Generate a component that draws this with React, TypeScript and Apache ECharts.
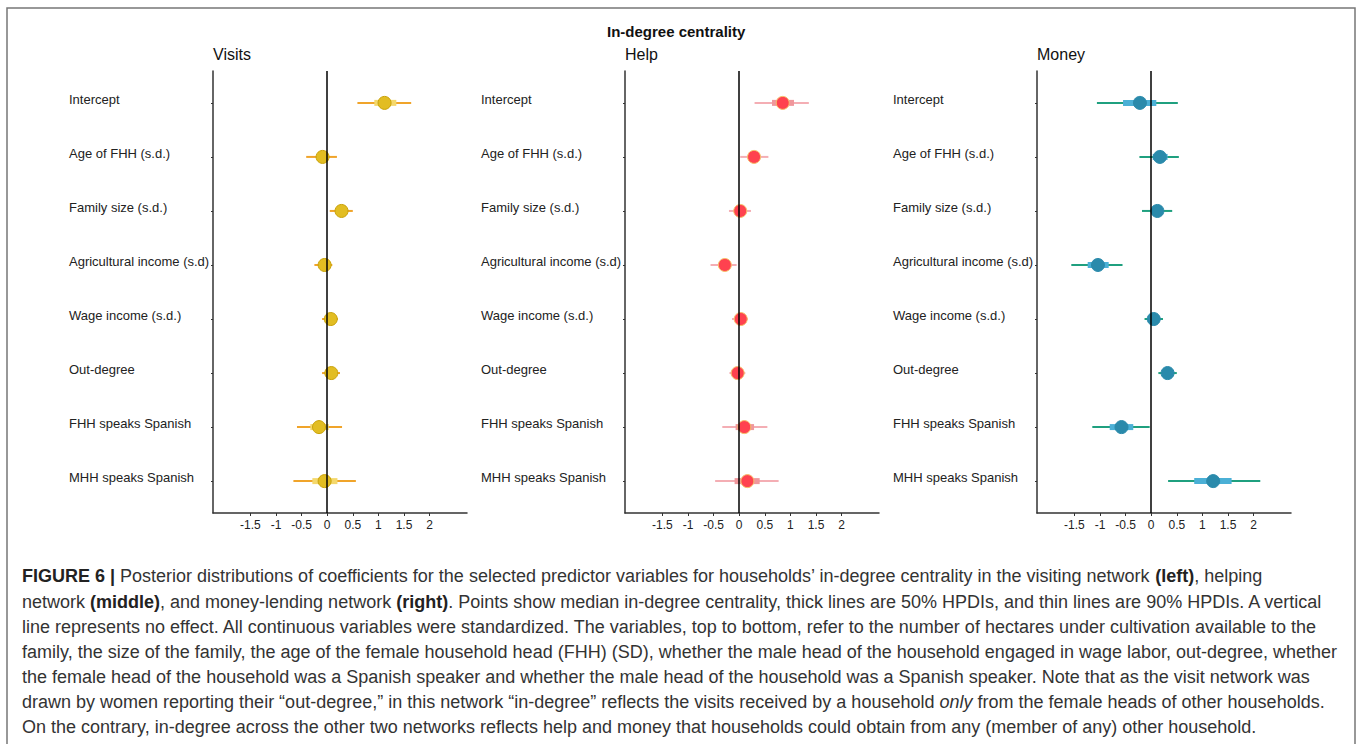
import React, { useEffect, useRef } from "react";
import * as echarts from "echarts";

const categories = [
  "Intercept",
  "Age of FHH (s.d.)",
  "Family size (s.d.)",
  "Agricultural income (s.d)",
  "Wage income (s.d.)",
  "Out-degree",
  "FHH speaks Spanish",
  "MHH speaks Spanish",
];

const tickValues = [-1.5, -1, -0.5, 0, 0.5, 1, 1.5, 2];
const rowValues = [1, 2, 3, 4, 5, 6, 7, 8];

// [lo90, hi90, lo50, hi50, median]
const visits = [
  [0.59, 1.64, 0.92, 1.35, 1.12],
  [-0.41, 0.19, -0.19, 0.01, -0.09],
  [0.05, 0.5, 0.16, 0.39, 0.28],
  [-0.25, 0.1, -0.16, 0.06, -0.05],
  [-0.1, 0.21, -0.02, 0.16, 0.07],
  [-0.1, 0.25, -0.01, 0.18, 0.08],
  [-0.59, 0.29, -0.33, 0.03, -0.16],
  [-0.66, 0.56, -0.29, 0.2, -0.05],
];

const help = [
  [0.3, 1.36, 0.64, 1.07, 0.85],
  [0.02, 0.57, 0.19, 0.4, 0.29],
  [-0.2, 0.23, -0.07, 0.12, 0.02],
  [-0.56, -0.05, -0.38, -0.17, -0.28],
  [-0.14, 0.17, -0.05, 0.11, 0.03],
  [-0.19, 0.12, -0.1, 0.06, -0.03],
  [-0.33, 0.55, -0.07, 0.29, 0.1],
  [-0.47, 0.77, -0.09, 0.4, 0.16],
];

const money = [
  [-1.06, 0.52, -0.55, 0.1, -0.22],
  [-0.23, 0.54, 0.03, 0.32, 0.17],
  [-0.18, 0.41, 0.0, 0.23, 0.12],
  [-1.56, -0.56, -1.24, -0.83, -1.04],
  [-0.13, 0.23, -0.04, 0.14, 0.05],
  [0.14, 0.5, 0.23, 0.42, 0.32],
  [-1.15, -0.03, -0.81, -0.35, -0.58],
  [0.33, 2.13, 0.84, 1.57, 1.21],
];

const panelTitles = ["Visits", "Help", "Money"];
const panelData = [visits, help, money];
const panelColors = [
  { thin: "#f0a42a", thick: "#f4d86c", point: "#e2bd22", stroke: "#c9a20a" },
  { thin: "#f4aeb4", thick: "#f0979c", point: "#ff424f", stroke: "#f6c26a" },
  { thin: "#1fa07f", thick: "#4bb0d6", point: "#2a8aab", stroke: "#2a8aab" },
];

const captionLines = [
  "{b|FIGURE 6 |} Posterior distributions of coefficients for the selected predictor variables for households\u2019 in-degree centrality in the visiting network {b|(left)}, helping",
  "network {b|(middle)}, and money-lending network {b|(right)}. Points show median in-degree centrality, thick lines are 50% HPDIs, and thin lines are 90% HPDIs. A vertical",
  "line represents no effect. All continuous variables were standardized. The variables, top to bottom, refer to the number of hectares under cultivation available to the",
  "family, the size of the family, the age of the female household head (FHH) (SD), whether the male head of the household engaged in wage labor, out-degree, whether",
  "the female head of the household was a Spanish speaker and whether the male head of the household was a Spanish speaker. Note that as the visit network was",
  "drawn by women reporting their \u201cout-degree,\u201d in this network \u201cin-degree\u201d reflects the visits received by a household {i|only} from the female heads of other households.",
  "On the contrary, in-degree across the other two networks reflects help and money that households could obtain from any (member of any) other household.",
];

const FONT = "'Liberation Sans', Arial, Helvetica, sans-serif";
const CAP = 18;

export default function App() {
  const ref = useRef<HTMLDivElement>(null);
  useEffect(() => {
    if (!ref.current) return;
    const chart = echarts.init(ref.current, null, { renderer: "svg" });
    const gridLefts = [213, 625, 1037];
    const grids = gridLefts.map((l) => ({ left: l, top: 71, width: 254, height: 442 }));
    const xAxes = gridLefts.map((_, i) => ({
      type: "value",
      gridIndex: i,
      min: -2.23,
      max: 2.73,
      axisLine: { show: true, onZero: false, lineStyle: { color: "#333", width: 1.5 } },
      splitLine: { show: false },
      axisTick: { show: true, customValues: tickValues, length: 3, lineStyle: { color: "#333" } },
      axisLabel: {
        show: true,
        customValues: tickValues,
        formatter: (v: number) => String(v),
        color: "#222",
        fontSize: 12,
        fontFamily: FONT,
        margin: 6,
      },
    }));
    const yAxes = gridLefts.map((_, i) => ({
      type: "value",
      gridIndex: i,
      min: 0.41,
      max: 8.59,
      inverse: true,
      axisLine: { show: true, onZero: false, lineStyle: { color: "#333", width: 1.5 } },
      splitLine: { show: false },
      axisTick: { show: true, customValues: rowValues, length: 2, lineStyle: { color: "#333" } },
      axisLabel: {
        show: true,
        // labels sit slightly above their tick, as in the reference
        customValues: rowValues.map((r) => r - 0.07),
        formatter: (v: number) => categories[Math.round(v) - 1] || "",
        align: "left",
        margin: 144,
        color: "#222",
        fontSize: 13,
        fontFamily: FONT,
      },
    }));

    const series: any[] = [];
    panelData.forEach((rows, i) => {
      const c = panelColors[i];
      series.push({
        type: "custom",
        xAxisIndex: i,
        yAxisIndex: i,
        data: rows.map((r, k) => [r[0], r[1], r[2], r[3], r[4], rowValues[k]]),
        encode: { x: [0, 1, 2, 3, 4], y: 5 },
        renderItem: (params: any, api: any) => {
          const row = api.value(5);
          const a = api.coord([api.value(0), row]);
          const b = api.coord([api.value(1), row]);
          const c50 = api.coord([api.value(2), row]);
          const d50 = api.coord([api.value(3), row]);
          const m = api.coord([api.value(4), row]);
          return {
            type: "group",
            children: [
              {
                type: "line",
                shape: { x1: a[0], y1: a[1], x2: b[0], y2: b[1] },
                style: { stroke: c.thin, lineWidth: 2 },
              },
              {
                type: "rect",
                shape: { x: c50[0], y: c50[1] - 3, width: d50[0] - c50[0], height: 6 },
                style: { fill: c.thick },
              },
              {
                type: "circle",
                shape: { cx: m[0], cy: m[1], r: 6.5 },
                style: { fill: c.point, stroke: c.stroke, lineWidth: 1 },
              },
            ],
          };
        },
        z: 3,
      });
      series.push({
        type: "line",
        xAxisIndex: i,
        yAxisIndex: i,
        data: [],
        markLine: {
          silent: true,
          symbol: "none",
          label: { show: false },
          lineStyle: { color: "#000", width: 1.5, type: "solid" },
          data: [{ xAxis: 0 }],
        },
        z: 2,
      });
    });

    const titles: any[] = [
      {
        text: "In-degree centrality",
        left: 607,
        top: 24,
        padding: 0,
        textStyle: { fontSize: 15, fontWeight: "bold", color: "#111", fontFamily: FONT },
      },
    ];
    panelTitles.forEach((t, i) => {
      titles.push({
        text: t,
        left: gridLefts[i],
        top: 46,
        padding: 0,
        textStyle: { fontSize: 16, fontWeight: "normal", color: "#111", fontFamily: FONT },
      });
    });

    const lineYs = [576, 602, 627, 652, 677, 702, 727];
    const graphics: any[] = [
      {
        type: "rect",
        shape: { x: 7, y: 8, width: 1348, height: 760 },
        style: { fill: "none", stroke: "#777", lineWidth: 1.5 },
        silent: true,
      },
    ];
    captionLines.forEach((t, k) => {
      graphics.push({
        type: "text",
        x: 22,
        y: lineYs[k],
        style: {
          text: t,
          fill: "#333",
          fontSize: CAP,
          fontFamily: FONT,
          verticalAlign: "middle",
          rich: {
            b: { fontWeight: "bold", fontSize: CAP, fontFamily: FONT, fill: "#222" },
            i: { fontStyle: "italic", fontSize: CAP, fontFamily: FONT, fill: "#333" },
          },
        },
      });
    });

    chart.setOption({
      animation: false,
      backgroundColor: "#fff",
      title: titles,
      grid: grids,
      xAxis: xAxes,
      yAxis: yAxes,
      series,
      graphic: graphics,
    });
    return () => chart.dispose();
  }, []);
  return (
    <div
      ref={ref}
      style={{ position: "absolute", left: 0, top: 0, width: 1357, height: 744 }}
    />
  );
}
